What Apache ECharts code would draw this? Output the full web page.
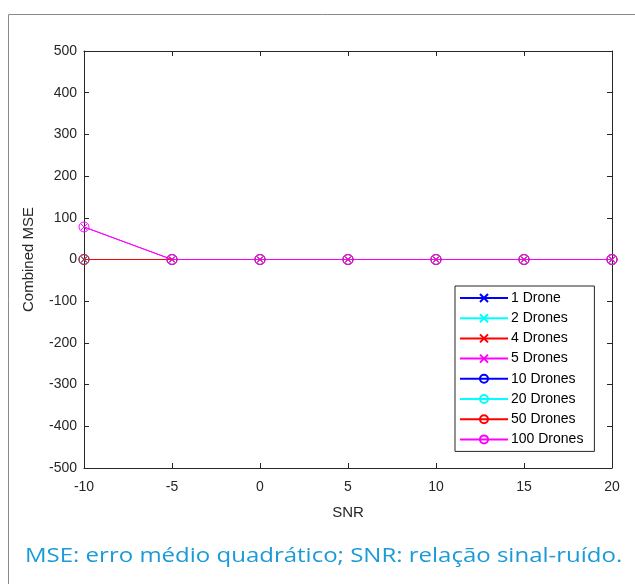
<!DOCTYPE html>
<html><head><meta charset="utf-8">
<script src="https://cdn.jsdelivr.net/npm/echarts@6/dist/echarts.min.js"></script>
<style>html,body{margin:0;padding:0;background:#fff}#c{width:635px;height:584px}</style>
</head><body><div id="c"></div>
<script>
const snr = [-10, -5, 0, 5, 10, 15, 20];
const seriesNames = ['1 Drone','2 Drones','4 Drones','5 Drones','10 Drones','20 Drones','50 Drones','100 Drones'];
const d1 = [0, 0, 0, 0, 0, 0, 0];
const d2 = [0, 0, 0, 0, 0, 0, 0];
const d4 = [0, 0, 0, 0, 0, 0, 0];
const d5 = [78, 0, 0, 0, 0, 0, 0];
const d10 = [0, 0, 0, 0, 0, 0, 0];
const d20 = [0, 0, 0, 0, 0, 0, 0];
const d50 = [0, 0, 0, 0, 0, 0, 0];
const d100 = [78, 0, 0, 0, 0, 0, 0];
const yTicks = [-500, -400, -300, -200, -100, 0, 100, 200, 300, 400, 500];
const xTicks = [-10, -5, 0, 5, 10, 15, 20];
const caption = 'MSE: erro médio quadrático; SNR: relação sinal-ruído.';

const allData = [d1, d2, d4, d5, d10, d20, d50, d100];
const colors = ['#0000ff','#00ffff','#ff0000','#ff00ff','#0000ff','#00ffff','#ff0000','#ff00ff'];
const xPath = 'path://M0,0L10,10M10,0L0,10';

const axisCol = '#262626';
const font = 'Liberation Sans, Arial, sans-serif';

const series = allData.map((arr, i) => {
  const isX = i < 4;
  return {
    name: seriesNames[i],
    type: 'line',
    data: arr.map((v, k) => [snr[k], v]),
    symbol: isX ? xPath : 'circle',
    symbolSize: isX ? 6 : 10,
    showAllSymbol: true,
    lineStyle: { color: colors[i], width: 1 },
    itemStyle: { color: isX ? colors[i] : 'rgba(0,0,0,0)', borderColor: colors[i], borderWidth: 1 },
    emphasis: { disabled: true },
    animation: false
  };
});

const boxAxis = (pos) => ({
  type: 'value', position: pos,
  axisLine: { show: true, onZero: false, lineStyle: { color: axisCol, width: 1 } },
  axisTick: { show: true, inside: true, length: 5, lineStyle: { color: axisCol } },
  axisLabel: { show: false }, splitLine: { show: false }
});

const chart = echarts.init(document.getElementById('c'), null, { renderer: 'canvas', devicePixelRatio: 1 });
chart.setOption({
  backgroundColor: '#fff',
  animation: false,
  grid: { left: 84, right: 23, top: 51, bottom: 116, containLabel: false },
  xAxis: [{
    type: 'value', position: 'bottom', min: xTicks[0], max: xTicks[xTicks.length - 1], interval: 5,
    name: 'SNR', nameLocation: 'middle', nameGap: 37,
    nameTextStyle: { color: axisCol, fontSize: 15, fontFamily: font },
    axisLine: { show: true, onZero: false, lineStyle: { color: axisCol, width: 1 } },
    axisTick: { show: true, inside: true, length: 5, lineStyle: { color: axisCol } },
    axisLabel: { color: axisCol, fontSize: 14, fontFamily: font, margin: 12 },
    splitLine: { show: false }
  }, Object.assign(boxAxis('top'), { min: xTicks[0], max: xTicks[xTicks.length - 1], interval: 5 })],
  yAxis: [{
    type: 'value', position: 'left', min: yTicks[0], max: yTicks[yTicks.length - 1], interval: 100,
    name: 'Combined MSE', nameLocation: 'middle', nameGap: 48, nameRotate: 90,
    nameTextStyle: { color: axisCol, fontSize: 15, fontFamily: font },
    axisLine: { show: true, onZero: false, lineStyle: { color: axisCol, width: 1 } },
    axisTick: { show: true, inside: true, length: 5, lineStyle: { color: axisCol } },
    axisLabel: { color: axisCol, fontSize: 14, fontFamily: font, margin: 7 },
    splitLine: { show: false }
  }, Object.assign(boxAxis('right'), { min: yTicks[0], max: yTicks[yTicks.length - 1], interval: 100 })],
  legend: {
    orient: 'vertical', left: 455, top: 286,
    backgroundColor: '#fff', borderColor: axisCol, borderWidth: 1,
    padding: [5, 11, 5, 4], itemGap: 6.2, itemWidth: 48, itemHeight: 10,
    textStyle: { color: '#000', fontSize: 14, fontFamily: font, padding: [0, 0, 0, -2] },
    data: seriesNames
  },
  graphic: [
    { type: 'polyline', shape: { points: [[8.5, 700], [8.5, 14.5], [700, 14.5]] },
      style: { stroke: '#8a8a8a', lineWidth: 1, fill: null }, silent: true },
    { type: 'text', x: 25, y: 546, scaleX: 1.2, originX: 0,
      style: { text: caption, fill: '#1a9ad6', font: '20px "Open Sans", sans-serif' } }
  ],
  series: series
});
</script>
</body></html>
